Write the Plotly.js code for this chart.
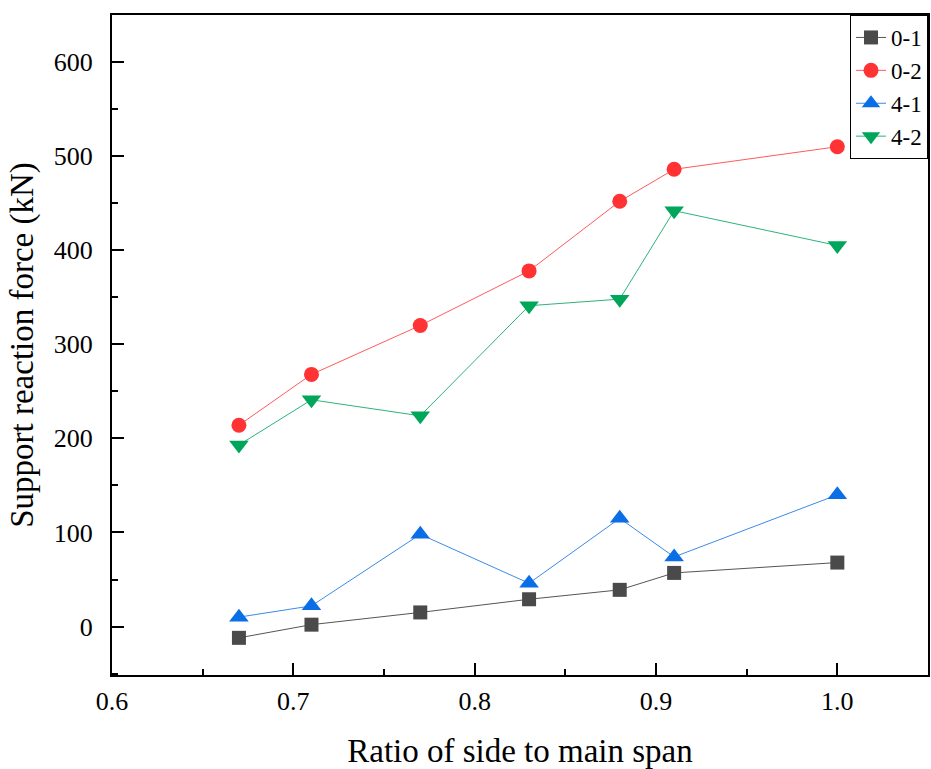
<!DOCTYPE html>
<html>
<head>
<meta charset="utf-8">
<script src="https://cdn.plot.ly/plotly-3.0.1.min.js"></script>
<style>html,body{margin:0;padding:0;background:#fff;}#chart{width:931px;height:769px;}</style>
</head>
<body>
<div id="chart"></div>
<script>
const ratios = [0.67, 0.71, 0.77, 0.83, 0.88, 0.91, 1.0];
const seriesNames = ["0-1", "0-2", "4-1", "4-2"];
const s01 = [-12, 2, 15, 29, 39, 57, 68];
const s02 = [214, 268, 320, 378, 452, 486, 510];
const s41 = [10, 22, 98, 46, 115, 74, 140];
const s42 = [193, 241, 224, 341, 348, 442, 405];

const markerColors = ["#4a4a4a", "#ff3333", "#0a6ee6", "#00a65a"];
const lineColors = ["#555555", "#ff5a5a", "#3a8ae8", "#2db37a"];
const symbols = ["square", "circle", "triangle-up", "triangle-down"];
const sizes = [14, 15, 17, 17];
const values = [s01, s02, s41, s42];

const traces = values.map((v, i) => ({
  x: ratios, y: v, name: seriesNames[i], type: "scatter", mode: "lines+markers",
  line: {color: lineColors[i], width: 1},
  marker: {color: markerColors[i], symbol: symbols[i], size: sizes[i], line: {width: 0}}
}));

const tickFont = {family: "Liberation Serif, Times New Roman, serif", size: 26, color: "#000"};
const titleFont = {family: "Liberation Serif, Times New Roman, serif", size: 33, color: "#000"};

const layout = {
  width: 931, height: 769,
  margin: {l: 112, r: 3, t: 15, b: 94},
  paper_bgcolor: "#fff", plot_bgcolor: "#fff",
  showlegend: true,
  legend: {
    x: 1.0, xanchor: "right", y: 1, yanchor: "top",
    bordercolor: "#000", borderwidth: 1, bgcolor: "#fff",
    font: {family: "Liberation Serif, Times New Roman, serif", size: 23, color: "#000"},
    tracegroupgap: 0, itemwidth: 30
  },
  xaxis: {
    range: [0.6, 1.05], dtick: 0.1, tick0: 0.6, tickformat: ".1f",
    showgrid: false, zeroline: false,
    showline: true, linecolor: "#000", linewidth: 2, mirror: true,
    ticks: "inside", ticklen: 12, tickwidth: 2, tickcolor: "#000",
    minor: {dtick: 0.05, ticks: "inside", ticklen: 6, tickwidth: 2, tickcolor: "#000", showgrid: false},
    tickfont: tickFont, ticklabelstandoff: 2,
    title: {text: "Ratio of side to main span", font: titleFont, standoff: 28}
  },
  yaxis: {
    range: [-51.5, 650], dtick: 100, tick0: 0,
    showgrid: false, zeroline: false,
    showline: true, linecolor: "#000", linewidth: 2, mirror: true,
    ticks: "inside", ticklen: 12, tickwidth: 2, tickcolor: "#000",
    minor: {dtick: 50, ticks: "inside", ticklen: 6, tickwidth: 2, tickcolor: "#000", showgrid: false},
    tickfont: tickFont, ticklabelstandoff: 12,
    title: {text: "Support reaction force (kN)", font: titleFont, standoff: 10}
  }
};

Plotly.newPlot("chart", traces, layout, {displayModeBar: false, staticPlot: true});
</script>
</body>
</html>
